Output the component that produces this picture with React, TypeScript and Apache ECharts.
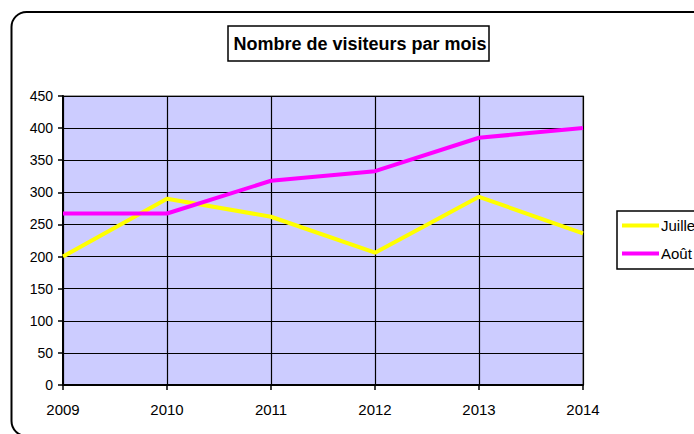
import React, { useEffect, useRef } from "react";
import * as echarts from "echarts";

const years = ["2009", "2010", "2011", "2012", "2013", "2014"];
const juillet = [200, 290, 262, 206, 293, 236];
const aout = [267, 267, 318, 333, 385, 400];
const yTicks = { min: 0, max: 450, interval: 50 };
const titleText = "Nombre de visiteurs par mois";

const FONT = "'Liberation Sans', Arial, sans-serif";

export default function App() {
  const ref = useRef<HTMLDivElement>(null);
  useEffect(() => {
    document.body.style.margin = "0";
    const chart = echarts.init(ref.current!, null, { renderer: "svg" });
    chart.setOption({
      animation: false,
      backgroundColor: "#ffffff",
      textStyle: { fontFamily: FONT },
      graphic: [
        {
          type: "rect",
          shape: { x: 11.5, y: 12, width: 720, height: 424, r: 15 },
          style: { fill: "none", stroke: "#000", lineWidth: 2 },
          z: 0,
        },
        {
          type: "rect",
          shape: { x: 228, y: 26, width: 261, height: 35 },
          style: { fill: "#fff", stroke: "#000", lineWidth: 1.5 },
          z: 10,
        },
        {
          type: "text",
          x: 360,
          y: 44,
          style: {
            text: titleText,
            fontFamily: FONT,
            fontWeight: "bold",
            fontSize: 18,
            fill: "#000",
            align: "center",
            verticalAlign: "middle",
          },
          z: 11,
        },
      ],
      legend: {
        orient: "vertical",
        left: 617,
        top: 211,
        borderColor: "#000",
        borderWidth: 1.5,
        backgroundColor: "#fff",
        padding: [7, 40, 8, 5],
        itemGap: 13,
        itemWidth: 37,
        itemHeight: 4,
        icon: "rect",
        textStyle: { fontFamily: FONT, fontSize: 15, color: "#000", padding: [3, 0, 0, -3] },
        data: ["Juillet", "Août"],
      },
      grid: {
        left: 63,
        top: 96,
        width: 520,
        height: 289,
        show: true,
        backgroundColor: "#CCCCFF",
        borderColor: "#808080",
        borderWidth: 1.5,
      },
      xAxis: {
        type: "category",
        data: years,
        boundaryGap: false,
        axisLine: { show: true, lineStyle: { color: "#000", width: 2 } },
        axisTick: { show: true, inside: false, length: 5, lineStyle: { color: "#000", width: 1.5 } },
        axisLabel: { color: "#000", fontSize: 15, fontFamily: FONT, margin: 17 },
        splitLine: { show: true, lineStyle: { color: "#000", width: 1.2 } },
      },
      yAxis: {
        type: "value",
        min: yTicks.min,
        max: yTicks.max,
        interval: yTicks.interval,
        axisLine: { show: true, lineStyle: { color: "#000", width: 2 } },
        axisTick: { show: true, inside: false, length: 5, lineStyle: { color: "#000", width: 1.5 } },
        axisLabel: { color: "#000", fontSize: 14, fontFamily: FONT, margin: 10 },
        splitLine: { show: true, lineStyle: { color: "#000", width: 1.2 } },
      },
      series: [
        {
          name: "Juillet",
          type: "line",
          data: juillet,
          symbol: "none",
          lineStyle: { color: "#FFFF00", width: 4 },
          itemStyle: { color: "#FFFF00" },
          z: 3,
        },
        {
          name: "Août",
          type: "line",
          data: aout,
          symbol: "none",
          lineStyle: { color: "#FF00FF", width: 4 },
          itemStyle: { color: "#FF00FF" },
          z: 4,
        },
      ],
    });
    return () => chart.dispose();
  }, []);
  return <div ref={ref} style={{ width: 694, height: 434 }} />;
}
